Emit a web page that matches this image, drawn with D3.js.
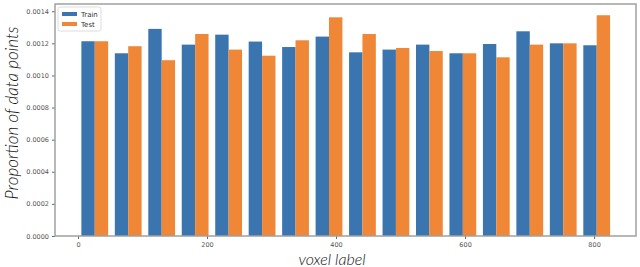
<!DOCTYPE html>
<html>
<head>
<meta charset="utf-8">
<script src="https://cdn.jsdelivr.net/npm/d3@7"></script>
<style>
  body { margin: 0; background: #fff; }
  svg { display: block; }
</style>
</head>
<body>
<svg id="chart" width="640" height="267"></svg>
<script>
// bin centres (voxel label) and proportions
var binEdges = [0, 830];
var binCount = 16;
var trainValues = [0.001213, 0.001138, 0.00129, 0.001192, 0.001254, 0.001211, 0.001177, 0.001242,
                   0.001144, 0.001161, 0.001192, 0.001138, 0.001196, 0.001275, 0.0012, 0.001188];
var testValues = [0.001213, 0.001182, 0.001095, 0.001258, 0.001161, 0.001123, 0.001219, 0.001362,
                  0.001258, 0.001171, 0.001152, 0.001138, 0.001113, 0.001192, 0.0012, 0.001375];
var seriesNames = ["Train", "Test"];
var seriesColors = ["#3a75b0", "#ef8736"];
var yTicks = [0, 0.0002, 0.0004, 0.0006, 0.0008, 0.0010, 0.0012, 0.0014];
var xTicks = [0, 200, 400, 600, 800];

var drawChart = function() {
  let svg = d3.select("#chart");

  let margin = { top: 4, right: 4, bottom: 31, left: 55 };
  let width = 640, height = 267;
  let plotWidth = width - margin.left - margin.right;
  let plotHeight = height - margin.top - margin.bottom;

  let x = d3.scaleLinear().domain([-35.7, 865]).range([0, plotWidth]);
  let y = d3.scaleLinear().domain([0, 0.001445]).range([plotHeight, 0]);

  let plot = svg.append("g")
    .attr("transform", "translate(" + margin.left + "," + margin.top + ")");

  // bins
  let binWidth = (binEdges[1] - binEdges[0]) / binCount;
  let bins = d3.range(binCount).map(i => binEdges[0] + i * binWidth);
  let barW = binWidth * 0.4;

  [trainValues, testValues].forEach((vals, s) => {
    plot.selectAll("rect.s" + s)
      .data(vals)
      .enter().append("rect")
      .attr("class", "s" + s)
      .attr("x", (d, i) => x(bins[i] + binWidth * 0.1 + s * barW))
      .attr("width", x(barW) - x(0))
      .attr("y", d => y(d))
      .attr("height", d => plotHeight - y(d))
      .attr("fill", seriesColors[s]);
  });

  // axes
  let yAxis = d3.axisLeft(y).tickValues(yTicks).tickFormat(d3.format(".4f")).tickSize(3).tickPadding(3);
  let xAxis = d3.axisBottom(x).tickValues(xTicks).tickFormat(d3.format("d")).tickSize(3).tickPadding(3);

  let yGroup = plot.append("g").call(yAxis);
  let xGroup = plot.append("g").attr("transform", "translate(0," + plotHeight + ")").call(xAxis);

  [yGroup, xGroup].forEach(g => {
    g.select(".domain").remove();
    g.selectAll("line").attr("stroke", "#666");
    g.selectAll("text")
      .style("font-family", "DejaVu Sans")
      .style("font-size", "6.5px")
      .attr("fill", "#555");
  });

  // frame
  plot.append("rect")
    .attr("x", 0).attr("y", 0)
    .attr("width", plotWidth).attr("height", plotHeight)
    .attr("fill", "none")
    .attr("stroke", "#a0a0a0")
    .attr("stroke-width", 1.5);

  // legend
  let legend = plot.append("g").attr("transform", "translate(3,3)");
  legend.append("rect")
    .attr("width", 43).attr("height", 24)
    .attr("rx", 2)
    .attr("fill", "#fff")
    .attr("stroke", "#ddd");
  seriesNames.forEach((name, i) => {
    legend.append("rect")
      .attr("x", 4).attr("y", 5 + i * 10)
      .attr("width", 15).attr("height", 4)
      .attr("fill", seriesColors[i]);
    legend.append("text")
      .text(name)
      .attr("x", 23).attr("y", 10 + i * 10)
      .style("font-family", "DejaVu Sans")
      .style("font-size", "7px")
      .attr("fill", "#333");
  });

  // axis titles
  svg.append("text")
    .text("voxel label")
    .attr("x", 332)
    .attr("y", 265)
    .attr("text-anchor", "middle")
    .style("font-family", "Lato")
    .style("font-style", "italic")
    .style("font-weight", "300")
    .style("font-size", "16px")
    .attr("fill", "#111");

  svg.append("text")
    .text("Proportion of data points")
    .attr("transform", "translate(18,113) rotate(-90)")
    .attr("text-anchor", "middle")
    .style("font-family", "Lato")
    .style("font-style", "italic")
    .style("font-weight", "300")
    .style("font-size", "17px")
    .attr("fill", "#111");
};

drawChart();
</script>
</body>
</html>
